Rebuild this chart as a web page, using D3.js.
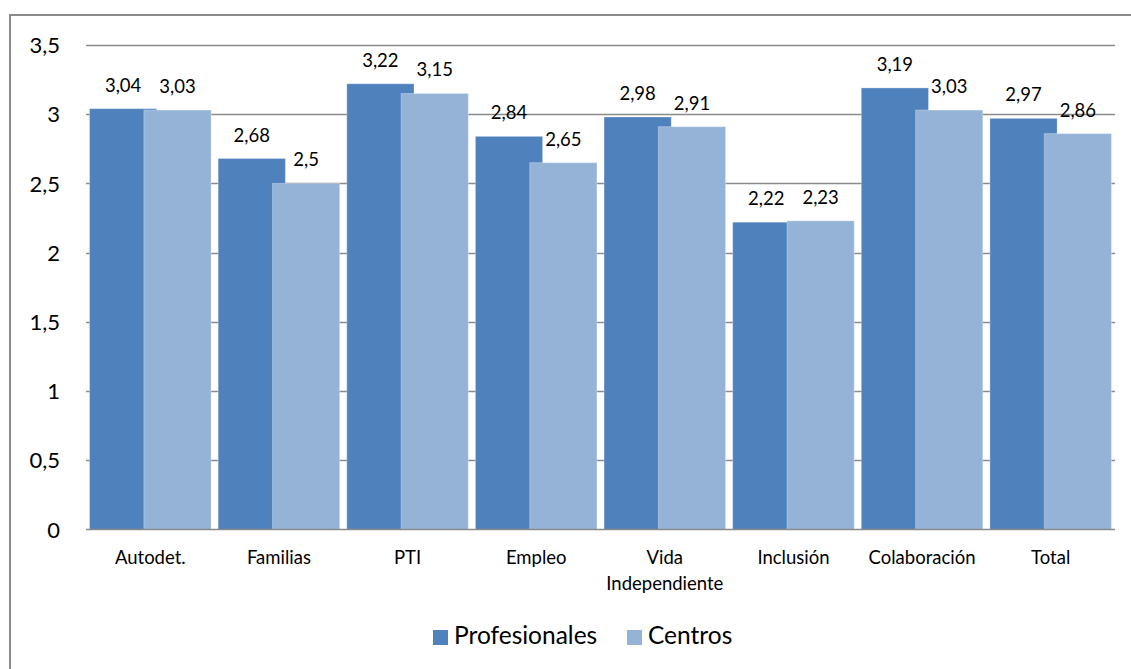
<!DOCTYPE html>
<html>
<head>
<meta charset="utf-8">
<script src="https://cdn.jsdelivr.net/npm/d3@7"></script>
<style>
  html, body { margin: 0; padding: 0; background: #fff; }
  svg text { font-family: Lato, "Open Sans", sans-serif; fill: #000; }
</style>
</head>
<body>
<svg id="chart" width="1131" height="669"></svg>
<script>
// Category labels (line breaks marked with \n)
const categories = ["Autodet.", "Familias", "PTI", "Empleo", "Vida\nIndependiente", "Inclusión", "Colaboración", "Total"];
const seriesNames = ["Profesionales", "Centros"];
const profesionales = [3.04, 2.68, 3.22, 2.84, 2.98, 2.22, 3.19, 2.97];
const centros = [3.03, 2.50, 3.15, 2.65, 2.91, 2.23, 3.03, 2.86];
const yTicks = [0, 0.5, 1, 1.5, 2, 2.5, 3, 3.5];
const colors = ["#4F81BD", "#95B3D7"];

const fmt = v => String(v).replace(".", ",");

const svg = d3.select("#chart");

// Outer chart frame
svg.append("rect")
  .attr("x", 10).attr("y", 15)
  .attr("width", 1140).attr("height", 680)
  .attr("fill", "none").attr("stroke", "#8a8a8a").attr("stroke-width", 2);

const plot = { left: 86, right: 1115, top: 45, bottom: 529.5 };

const x = d3.scaleBand()
  .domain(d3.range(categories.length))
  .range([plot.left, plot.right])
  .paddingInner(0.055).paddingOuter(0.0275);

const y = d3.scaleLinear().domain([0, 3.5]).range([plot.bottom, plot.top]);

// Gridlines
svg.append("g").selectAll("line")
  .data(yTicks.filter(t => t > 0))
  .join("line")
  .attr("x1", plot.left).attr("x2", plot.right)
  .attr("y1", d => Math.round(y(d)) + 0.5).attr("y2", d => Math.round(y(d)) + 0.5)
  .attr("stroke", "#8a8a8a").attr("stroke-width", 1.3);

// Y axis labels
const yAxis = d3.axisLeft(y).tickValues(yTicks).tickFormat(fmt).tickSize(0).tickPadding(0);
const yg = svg.append("g").attr("transform", `translate(60,0)`).call(yAxis);
yg.select(".domain").remove();
yg.selectAll("text").style("font-size", "22px").attr("dy", "0.35em");

// Bars: each pair overlaps slightly, Centros drawn on top
const bw = x.bandwidth() * 0.553;
const seriesData = [profesionales, centros];
seriesData.forEach((vals, s) => {
  const g = svg.append("g");
  g.selectAll("rect")
    .data(vals)
    .join("rect")
    .attr("x", (d, i) => s === 0 ? x(i) : x(i) + x.bandwidth() - bw)
    .attr("y", d => y(d))
    .attr("width", bw)
    .attr("height", d => y(0) - y(d))
    .attr("fill", colors[s])
    .attr("stroke", "rgba(255,255,255,0.3)")
    .attr("stroke-width", 1);
  g.selectAll("text")
    .data(vals)
    .join("text")
    .attr("x", (d, i) => (s === 0 ? x(i) : x(i) + x.bandwidth() - bw) + bw / 2)
    .attr("y", d => y(d) - 17)
    .attr("text-anchor", "middle")
    .style("font-size", "18.5px")
    .text(fmt);
});

// X axis line
svg.append("line")
  .attr("x1", plot.left).attr("x2", plot.right)
  .attr("y1", plot.bottom).attr("y2", plot.bottom)
  .attr("stroke", "#8a8a8a").attr("stroke-width", 1.5);

// Category labels
const xl = svg.append("g").selectAll("text")
  .data(categories)
  .join("text")
  .attr("text-anchor", "middle")
  .style("font-size", "18.5px")
  .attr("transform", (d, i) => `translate(${x(i) + x.bandwidth() / 2},564)`);
xl.each(function(d) {
  const t = d3.select(this);
  d.split("\n").forEach((line, k) => {
    t.append("tspan").attr("x", 0).attr("y", k * 25.5).text(line);
  });
});

// Legend
const legend = svg.append("g");
const legendItems = [{ name: seriesNames[0], x: 433 }, { name: seriesNames[1], x: 627 }];
legendItems.forEach((it, i) => {
  legend.append("rect")
    .attr("x", it.x).attr("y", 630).attr("width", 15).attr("height", 15)
    .attr("fill", colors[i]);
  legend.append("text")
    .attr("x", it.x + 21).attr("y", 644)
    .style("font-size", "24.5px")
    .text(it.name);
});
</script>
</body>
</html>
